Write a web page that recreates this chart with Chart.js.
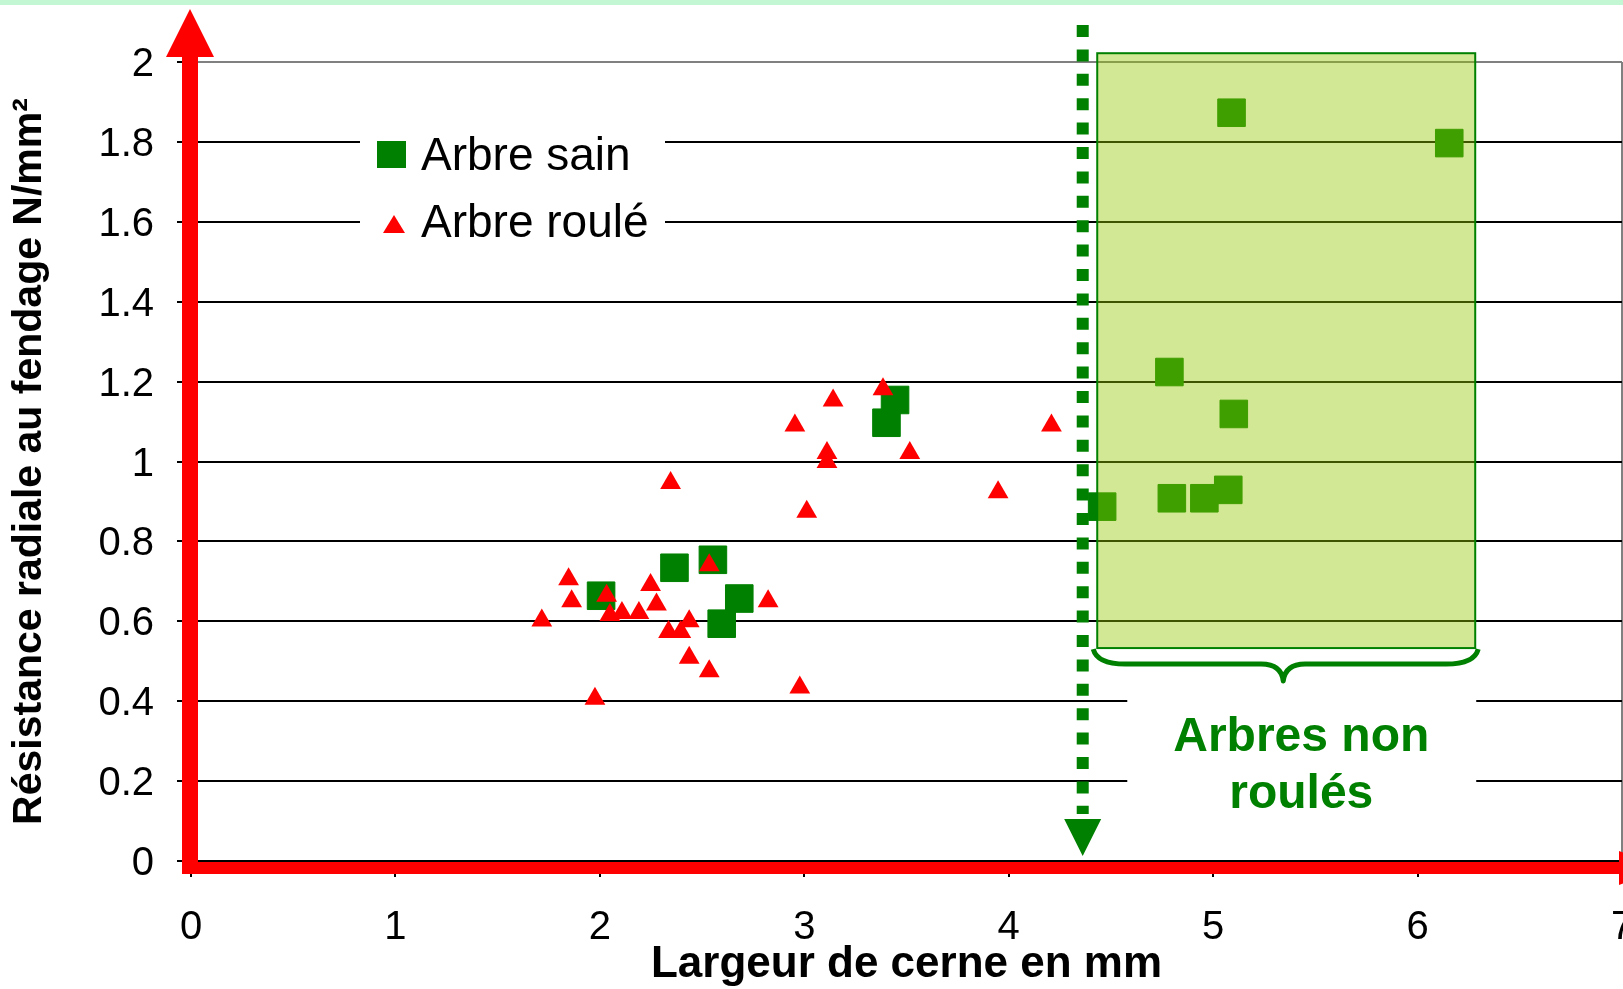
<!DOCTYPE html>
<html lang="fr">
<head>
<meta charset="utf-8">
<title>Résistance radiale au fendage</title>
<script src="https://cdn.jsdelivr.net/npm/chart.js"></script>
<style>
  html, body { margin: 0; padding: 0; background: #fff; }
  canvas { display: block; }
</style>
</head>
<body>
<canvas id="graphique" width="1623" height="989"></canvas>
<script>
// Données (largeur de cerne en mm, résistance en N/mm²)
const labelSain = 'Arbre sain';
const sainX = [2.006, 2.365, 2.553, 2.682, 2.596, 3.444, 3.402, 4.457, 4.798, 4.957, 5.074, 4.786, 5.101, 5.090, 6.155];
const sainY = [0.664, 0.734, 0.754, 0.657, 0.594, 1.154, 1.097, 0.887, 0.908, 0.908, 0.929, 1.224, 1.119, 1.873, 1.797];

const labelRoule = 'Arbre roulé';
const rouleX = [1.716, 1.847, 1.862, 2.033, 2.049, 2.108, 2.191, 2.248, 2.277, 2.336, 2.396, 2.437, 2.437, 2.535,
                2.535, 2.823, 1.976, 2.346, 2.978, 3.141, 3.385, 2.954, 4.209, 3.111, 3.111, 3.516, 3.948, 3.012];
const rouleY = [0.602, 0.705, 0.650, 0.664, 0.616, 0.621, 0.621, 0.691, 0.642, 0.573, 0.573, 0.600, 0.509, 0.740,
                0.475, 0.650, 0.406, 0.946, 0.434, 1.153, 1.181, 1.090, 1.090, 1.021, 0.999, 1.021, 0.923, 0.874];

const xTicks = [0, 1, 2, 3, 4, 5, 6, 7];
const yTicks = [0, 0.2, 0.4, 0.6, 0.8, 1, 1.2, 1.4, 1.6, 1.8, 2];

const titreX = 'Largeur de cerne en mm';
const titreY = 'Résistance radiale au fendage N/mm²';
const texteZone = ['Arbres non', 'roulés'];

// seuil (ligne pointillée) et zone des arbres non roulés, en unités des axes
const seuilCerne = 4.362;
const zoneX = [4.433, 6.282];
const zoneY = [0.533, 2.022];

const police = '"Liberation Sans", Arial, sans-serif';
const vert = '#008000';
const rouge = '#ff0000';

function points(xs, ys) {
    return xs.map((x, i) => ({ x: x, y: ys[i] }));
}

// Plugin pour les annotations (zone, accolade, texte, légende, axes fléchés)
const annotations = {
    id: 'annotations',
    beforeDraw(chart) {
        const ctx = chart.ctx;
        ctx.save();
        ctx.fillStyle = '#ffffff';
        ctx.fillRect(0, 0, chart.width, chart.height);
        ctx.fillStyle = '#c3f7d3';
        ctx.fillRect(0, 0, chart.width, 5);
        ctx.restore();
    },
    afterDatasetsDraw(chart) {
        const ctx = chart.ctx;
        const x = chart.scales.x;
        const y = chart.scales.y;
        const area = chart.chartArea;
        ctx.save();

        // zone verte semi-transparente
        const zx0 = x.getPixelForValue(zoneX[0]);
        const zx1 = x.getPixelForValue(zoneX[1]);
        const zy0 = y.getPixelForValue(zoneY[1]);
        const zy1 = y.getPixelForValue(zoneY[0]);
        ctx.fillStyle = 'rgba(151, 200, 0, 0.42)';
        ctx.fillRect(zx0, zy0, zx1 - zx0, zy1 - zy0);
        ctx.strokeStyle = vert;
        ctx.lineWidth = 2;
        ctx.strokeRect(zx0, zy0, zx1 - zx0, zy1 - zy0);

        // cadre blanc + texte "Arbres non roulés"
        const bx0 = x.getPixelForValue(4.58);
        ctx.fillStyle = '#ffffff';
        ctx.fillRect(bx0, zy1 + 37, zx1 + 1 - bx0, 150);
        const cx = (bx0 + zx1) / 2;
        ctx.fillStyle = vert;
        ctx.font = 'bold 48px ' + police;
        ctx.textAlign = 'center';
        ctx.textBaseline = 'alphabetic';
        ctx.fillText(texteZone[0], cx, zy1 + 103);
        ctx.fillText(texteZone[1], cx, zy1 + 160);

        // accolade sous la zone
        const a0 = zx0 - 4, a1 = zx1 + 3, mid = cx - 18;
        const top = zy1 + 1, h = top + 15, pointe = top + 32;
        ctx.strokeStyle = vert;
        ctx.lineWidth = 5;
        ctx.lineJoin = 'round';
        ctx.beginPath();
        ctx.moveTo(a0, top);
        ctx.quadraticCurveTo(a0 + 4, h, a0 + 32, h);
        ctx.lineTo(mid - 22, h);
        ctx.quadraticCurveTo(mid - 2, h, mid, pointe);
        ctx.quadraticCurveTo(mid + 2, h, mid + 22, h);
        ctx.lineTo(a1 - 32, h);
        ctx.quadraticCurveTo(a1 - 4, h, a1, top);
        ctx.stroke();

        // légende
        const lx = area.left + 169, ly = area.top + 58;
        ctx.fillStyle = '#ffffff';
        ctx.fillRect(lx, ly, 305, 128);
        const ds = chart.data.datasets;
        ctx.fillStyle = ds[0].backgroundColor;
        ctx.fillRect(lx + 17, ly + 21, 29, 27);
        ctx.fillStyle = ds[1].backgroundColor;
        ctx.beginPath();
        ctx.moveTo(lx + 34, ly + 95);
        ctx.lineTo(lx + 45, ly + 113);
        ctx.lineTo(lx + 23, ly + 113);
        ctx.closePath();
        ctx.fill();
        ctx.fillStyle = '#000000';
        ctx.font = '46px ' + police;
        ctx.textAlign = 'left';
        ctx.fillText(ds[0].label, lx + 61, ly + 50);
        ctx.fillText(ds[1].label, lx + 61, ly + 117);

        // ligne pointillée du seuil avec flèche
        const xs = x.getPixelForValue(seuilCerne);
        ctx.strokeStyle = vert;
        ctx.lineWidth = 12;
        ctx.lineCap = 'butt';
        ctx.setLineDash([12, 12.4]);
        ctx.beginPath();
        ctx.moveTo(xs, area.top - 37);
        ctx.lineTo(xs, area.bottom - 47);
        ctx.stroke();
        ctx.setLineDash([]);
        ctx.fillStyle = vert;
        ctx.beginPath();
        ctx.moveTo(xs - 18.5, area.bottom - 42);
        ctx.lineTo(xs + 18.5, area.bottom - 42);
        ctx.lineTo(xs, area.bottom - 5);
        ctx.closePath();
        ctx.fill();

        // axes rouges fléchés
        const ax = area.left - 1;
        ctx.fillStyle = rouge;
        ctx.fillRect(ax - 8, 55, 16, area.bottom + 13 - 55);
        ctx.beginPath();
        ctx.moveTo(ax, 9);
        ctx.lineTo(ax + 24, 57);
        ctx.lineTo(ax - 24, 57);
        ctx.closePath();
        ctx.fill();
        ctx.fillRect(ax - 8, area.bottom + 1, chart.width, 12);
        ctx.beginPath();
        ctx.moveTo(chart.width - 4, area.bottom - 10);
        ctx.lineTo(chart.width + 40, area.bottom + 7);
        ctx.lineTo(chart.width - 4, area.bottom + 24);
        ctx.closePath();
        ctx.fill();

        ctx.restore();
    }
};

const ctx = document.getElementById('graphique').getContext('2d');

new Chart(ctx, {
    type: 'scatter',
    data: {
        datasets: [
            {
                label: labelSain,
                data: points(sainX, sainY),
                backgroundColor: vert,
                borderColor: vert,
                pointStyle: 'rect',
                pointRadius: 19.5,
                pointBorderWidth: 1,
                order: 1
            },
            {
                label: labelRoule,
                data: points(rouleX, rouleY),
                backgroundColor: rouge,
                borderColor: rouge,
                pointStyle: 'triangle',
                pointRadius: 12,
                pointBorderWidth: 0,
                order: 0
            }
        ]
    },
    options: {
        responsive: false,
        animation: false,
        devicePixelRatio: 1,
        events: [],
        layout: {
            autoPadding: false,
            padding: { top: 62, right: 1, bottom: 0, left: 0 }
        },
        plugins: {
            legend: { display: false },
            tooltip: { enabled: false }
        },
        scales: {
            x: {
                type: 'linear',
                min: 0,
                max: 7,
                afterBuildTicks: (scale) => { scale.ticks = xTicks.map(v => ({ value: v })); },
                ticks: {
                    color: '#000',
                    padding: 27,
                    font: { family: police, size: 40 }
                },
                grid: {
                    color: (c) => (c.tick && c.tick.value === 7) ? '#808080' : 'rgba(0,0,0,0)',
                    lineWidth: 2,
                    tickColor: '#000',
                    tickLength: 16,
                    tickWidth: 2
                },
                border: { display: false },
                title: {
                    display: true,
                    text: titreX,
                    color: '#000',
                    padding: { top: 0, bottom: 2 },
                    font: { family: police, size: 44, weight: 'bold', lineHeight: 1 }
                },
                afterFit: (scale) => {
                    scale.height = 128;
                    scale.paddingLeft = 0;
                    scale.paddingRight = 0;
                }
            },
            y: {
                type: 'linear',
                min: 0,
                max: 2,
                afterBuildTicks: (scale) => { scale.ticks = yTicks.map(v => ({ value: v })); },
                ticks: {
                    color: '#000',
                    padding: 23,
                    labelOffset: 3,
                    font: { family: police, size: 40 },
                    callback: (v) => String(Math.round(v * 10) / 10)
                },
                grid: {
                    color: (c) => (c.tick && Math.abs(c.tick.value - 2) < 1e-6) ? '#808080' : '#000000',
                    lineWidth: 2,
                    tickColor: '#000',
                    tickLength: 14,
                    tickWidth: 2
                },
                border: { display: false },
                title: {
                    display: true,
                    text: titreY,
                    color: '#000',
                    padding: { top: 9, bottom: 0 },
                    font: { family: police, size: 41, weight: 'bold', lineHeight: 1 }
                },
                afterFit: (scale) => {
                    scale.width = 191;
                    scale.paddingTop = 0;
                    scale.paddingBottom = 0;
                }
            }
        }
    },
    plugins: [annotations]
});
</script>
</body>
</html>
